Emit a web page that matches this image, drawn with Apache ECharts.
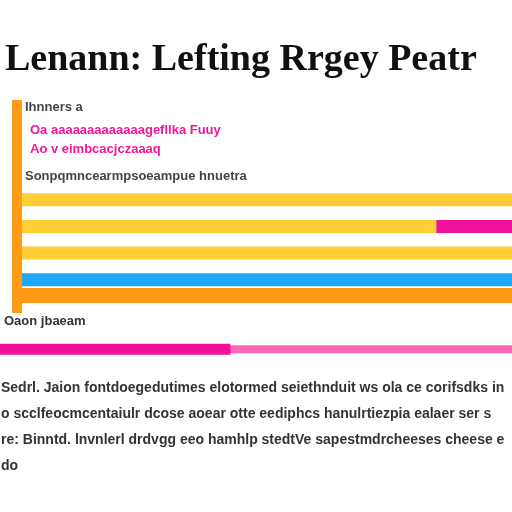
<!DOCTYPE html>
<html>
<head>
<meta charset="utf-8">
<script src="https://cdn.jsdelivr.net/npm/echarts@6/dist/echarts.min.js"></script>
<style>html,body{margin:0;padding:0;background:#fff;}#c{width:512px;height:512px;}</style>
</head>
<body>
<div id="c"></div>
<script>
// ---- data ----
var titleText = 'Lenann: Lefting Rrgey Peatr';
var rows = ['', '', '', '', '', '', '', 'r1', '', 'r2', '', 'r3', '', 'r4', '', ''];
var yellowValues = ['-', '-', '-', '-', '-', '-', '-', 100, '-', 84.7, '-', 100, '-', '-', '-', '-'];
var pinkValues   = ['-', '-', '-', '-', '-', '-', '-', '-', '-', 15.3, '-', '-', '-', '-', '-', '-'];
var blueValues   = ['-', '-', '-', '-', '-', '-', '-', '-', '-', '-', '-', '-', '-', 100, '-', '-'];
var lineCategories = ['p'];
var lightPinkValues = [100];
var darkPinkValues = [45];
var topNotes = ['Ihnners a', 'Oa aaaaaaaaaaaaagefllka Fuuy', 'Ao v eimbcacjczaaaq', 'Sonpqmncearmpsoeampue hnuetra'];
var axisNote = 'Oaon jbaeam';
var bottomLines = [
  'Sedrl. Jaion fontdoegedutimes elotormed seiethnduit ws ola ce corifsdks in',
  'o scclfeocmcentaiulr dcose aoear otte eediphcs hanulrtiezpia ealaer ser s',
  're: Binntd. lnvnlerl drdvgg eeo hamhlp stedtVe sapestmdrcheeses cheese e',
  'do'
];

var chart = echarts.init(document.getElementById('c'));
var sans = 'Liberation Sans, Arial, sans-serif';
function txt(s, x, y, color, size) {
  return { type: 'text', left: x, top: y, style: { text: s, fill: color, font: 'bold ' + (size || 13) + 'px ' + sans } };
}
var graphics = [
  { type: 'text', left: 5, top: 41, style: { text: titleText, fill: '#111', font: 'bold 38px "Liberation Serif", "Times New Roman", serif' } },
  txt(topNotes[0], 25, 101, '#444'),
  txt(topNotes[1], 30, 124, '#F0189A'),
  txt(topNotes[2], 30, 143, '#F0189A'),
  txt(topNotes[3], 25, 170, '#444'),
  txt(axisNote, 4, 315, '#333')
];
bottomLines.forEach(function (l, i) { graphics.push(txt(l, 1, 381 + i * 26, '#333', 14)); });

chart.setOption({
  animation: false,
  backgroundColor: '#fff',
  graphic: graphics,
  grid: [
    { left: 17, right: 0, top: 100, height: 213 },
    { left: 0, right: 0, top: 339, height: 22 }
  ],
  xAxis: [
    { type: 'value', gridIndex: 0, min: 0, max: 100, offset: -17.5,
      axisLine: { show: true, lineStyle: { color: '#FF9B17', width: 15, cap: 'butt' } },
      axisTick: { show: false }, axisLabel: { show: false }, splitLine: { show: false } },
    { type: 'value', gridIndex: 1, min: 0, max: 100, show: false, splitLine: { show: false } }
  ],
  yAxis: [
    { type: 'category', gridIndex: 0, data: rows, inverse: true, z: 5,
      axisLine: { show: true, lineStyle: { color: '#FF9B17', width: 10, cap: 'butt' } },
      axisTick: { show: false }, axisLabel: { show: false }, splitLine: { show: false } },
    { type: 'category', gridIndex: 1, data: lineCategories, show: false }
  ],
  series: [
    { type: 'bar', xAxisIndex: 0, yAxisIndex: 0, stack: 'a', barWidth: 13, data: yellowValues, itemStyle: { color: '#FFCD34' } },
    { type: 'bar', xAxisIndex: 0, yAxisIndex: 0, stack: 'a', barWidth: 13, data: pinkValues, itemStyle: { color: '#F0129A' } },
    { type: 'bar', xAxisIndex: 0, yAxisIndex: 0, stack: 'a', barWidth: 13, data: blueValues, itemStyle: { color: '#1DA8F5' } },
    { type: 'bar', xAxisIndex: 1, yAxisIndex: 1, barWidth: 8, barGap: '-118.75%', data: lightPinkValues, itemStyle: { color: '#FF66B6' } },
    { type: 'bar', xAxisIndex: 1, yAxisIndex: 1, barWidth: 11, data: darkPinkValues, itemStyle: { color: '#F0109A' } }
  ]
});
</script>
</body>
</html>
